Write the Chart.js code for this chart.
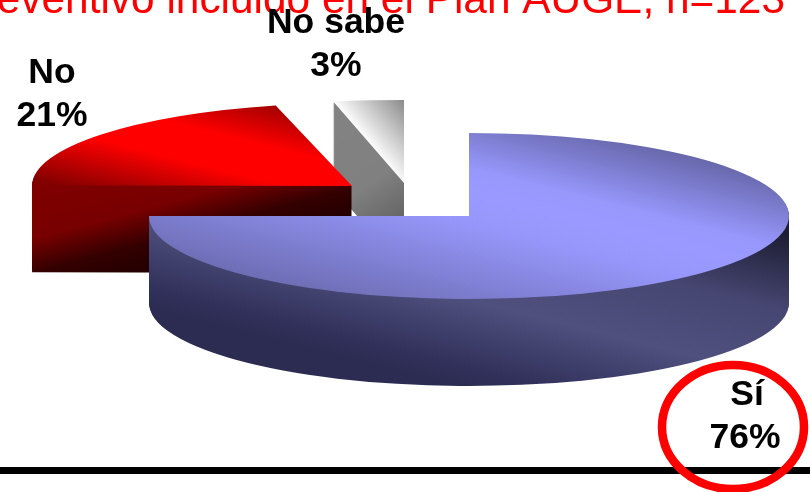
<!DOCTYPE html>
<html><head><meta charset="utf-8">
<style>html,body{margin:0;padding:0;background:#fff}#w{width:810px;height:492px;overflow:hidden}</style>
<script src="https://cdn.jsdelivr.net/npm/chart.js@4"></script>
</head><body><div id="w"><canvas id="c" width="810" height="492"></canvas></div>
<script>
const categories = ['Sí', 'No', 'No sabe'];
const percentages = [76, 21, 3];
const chartTitle = 'eventivo incluido en el Plan AUGE, n=123';

const RX = 320, RY = 83, DEPTH = 87;
// per-slice placement of the exploded 3D look: shift, horizontal stretch, turn
const sliceLook = [
  {dx: 0, dy: 0, sx: 1, turn: 0},
  {dx: -117, dy: -30, sx: 1, turn: -3},
  {dx: -65, dy: -33, sx: 1.18, turn: 0}
];
const band = (g0, g1, stops) => (ctx) => {
  const g = ctx.createLinearGradient(g0[0], g0[1], g1[0], g1[1]);
  stops.forEach(s => g.addColorStop(s[0], s[1]));
  return g;
};
const faces = [
  {top: band([527, 103], [468, 336], [[0,'#5f5f9d'],[.32,'#9797fc'],[.42,'#9999ff'],[.55,'#9696fa'],[1,'#6c6cb2']]),
   wall: band([506, 164], [451, 384], [[0,'#1d1d33'],[.33,'#464672'],[.62,'#50507f'],[.92,'#30305a'],[1,'#2c2c52']])},
  {top: band([217, 82], [183, 218], [[0,'#900000'],[.36,'#ff0000'],[.6,'#ff0000'],[1,'#800000']]),
   wall: band([32, 186], [76, 351], [[0,'#800000'],[.3,'#780000'],[.5,'#330000'],[1,'#000000']])},
  {top: band([404, 98], [360, 135], [[0,'#888888'],[1,'#ffffff']]),
   wall: band([340, 120], [404, 216], [[0,'#828282'],[.6,'#808080'],[1,'#666666']])}
];
const labelLines = [
  [[747, 405], [745, 448]],
  [[52, 83], [52, 126]],
  [[336, 33], [336, 76]]
];

const pie3d = {
  id: 'pie3d',
  beforeDatasetsDraw(chart) {
    const ctx = chart.ctx, arcs = chart.getDatasetMeta(0).data;
    const nativeFill = ctx.fill;
    ctx.fill = function () {
      this.save(); this.setTransform(1, 0, 0, 1, 0, 0);
      nativeFill.call(this); this.restore();
    };
    const paint = (el, i, down, fill) => {
      const look = sliceLook[i], base = el.options;
      el.options = Object.assign({}, base, {backgroundColor: fill});
      ctx.save();
      ctx.translate(el.x + look.dx, el.y + look.dy + down);
      ctx.scale(look.sx, RY / RX);
      ctx.rotate(look.turn * Math.PI / 180);
      ctx.translate(-el.x, -el.y);
      el.draw(ctx);
      ctx.restore();
      el.options = base;
    };
    [2, 1, 0].forEach(i => {
      const el = arcs[i];
      ctx.save();
      if (i === 0) {
        // the first slice's cut edge sits level on screen
        ctx.beginPath();
        ctx.rect(el.x, 0, chart.width - el.x, chart.height);
        ctx.rect(0, el.y, el.x, chart.height - el.y);
        ctx.clip();
      }
      const wall = faces[i].wall(ctx), top = faces[i].top(ctx);
      for (let k = DEPTH; k >= 1; k--) paint(el, i, k, wall);
      paint(el, i, 0, top);
      ctx.restore();
    });
    delete ctx.fill;
    return false;
  },
  afterDraw(chart) {
    const ctx = chart.ctx;
    ctx.save();
    ctx.fillStyle = '#000';
    ctx.fillRect(0, 467, chart.width, 7);

    ctx.fillStyle = '#ff0000';
    ctx.font = '42.4px "Liberation Sans", Arial, sans-serif';
    ctx.textAlign = 'right'; ctx.textBaseline = 'alphabetic';
    ctx.fillText(chartTitle, 785, 13);

    ctx.strokeStyle = '#ff0000'; ctx.lineWidth = 8.5;
    ctx.beginPath(); ctx.ellipse(733, 427, 71, 62, 0, 0, Math.PI * 2); ctx.stroke();

    ctx.fillStyle = '#000';
    ctx.font = 'bold 35.5px "Liberation Sans", Arial, sans-serif';
    ctx.textAlign = 'center';
    categories.forEach((name, i) => {
      ctx.fillText(name, labelLines[i][0][0], labelLines[i][0][1]);
      ctx.fillText(percentages[i] + '%', labelLines[i][1][0], labelLines[i][1][1]);
    });
    ctx.restore();
  }
};

new Chart(document.getElementById('c'), {
  type: 'pie',
  data: {labels: categories, datasets: [{data: percentages, backgroundColor: ['#9999ff', '#ff0000', '#cccccc'], borderWidth: 0}]},
  options: {
    responsive: false, animation: false, devicePixelRatio: 1,
    radius: RX,
    layout: {padding: {left: 128, right: 0, top: 0, bottom: 60}},
    plugins: {legend: {display: false}, tooltip: {enabled: false}, title: {display: false}},
    events: []
  },
  plugins: [pie3d]
});
</script></body></html>
